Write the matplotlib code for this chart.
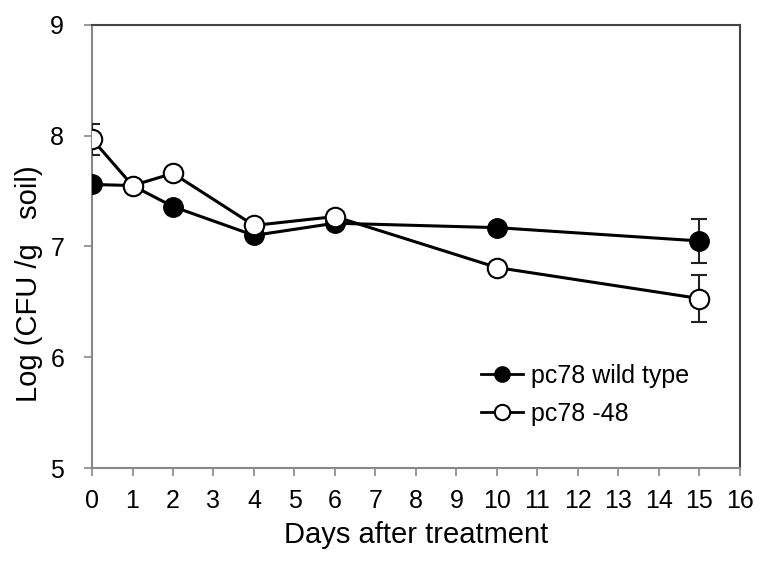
import numpy as np
import matplotlib.pyplot as plt
from matplotlib.lines import Line2D

plt.rcParams['font.family'] = ['Liberation Sans', 'DejaVu Sans']

days = [0, 1, 2, 4, 6, 10, 15]
wild = [7.56, 7.55, 7.36, 7.10, 7.21, 7.17, 7.05]
wild_err = [0.0, 0.0, 0.0, 0.0, 0.0, 0.0, 0.20]
mut = [7.97, 7.55, 7.66, 7.19, 7.27, 6.81, 6.53]
mut_err = [0.14, 0.0, 0.0, 0.0, 0.0, 0.05, 0.21]

fig = plt.figure(figsize=(7.68, 5.67), dpi=100)
ax = fig.add_axes([0.1198, 0.1746, 0.8437, 0.7814])

ax.errorbar(days, wild, yerr=wild_err, color='black', lw=2.2, marker='o', ms=14,
            mfc='black', mec='black', ecolor='#222222', elinewidth=1.5, capsize=6,
            capthick=1.5, zorder=3)
ax.errorbar(days, mut, yerr=mut_err, color='black', lw=2.2, marker='o', ms=14,
            mfc='white', mec='black', mew=1.5, ecolor='#222222', elinewidth=1.5,
            capsize=6, capthick=1.5, zorder=4)

ax.set_xlim(0, 16)
ax.set_ylim(5, 9)
ax.set_xticks(range(0, 17))
ax.set_yticks([5, 6, 7, 8, 9])
ax.tick_params(axis='both', labelsize=18, direction='out', length=6, width=1.2,
               color='#888888')
ax.tick_params(axis='x', pad=9)
ax.tick_params(axis='y', pad=14)
for s in ['left', 'bottom']:
    ax.spines[s].set_color('#888888')
    ax.spines[s].set_linewidth(1.5)
for s in ['top', 'right']:
    ax.spines[s].set_color('#444444')
    ax.spines[s].set_linewidth(1.5)

ax.set_xlabel('Days after treatment', fontsize=21, labelpad=6)
ax.set_ylabel('Log (CFU /g   soil)', fontsize=21)
ax.yaxis.set_label_coords(-0.076, 0.415)

handles = [
    Line2D([0], [0], color='black', lw=2, marker='o', ms=11, mfc='black', mec='black'),
    Line2D([0], [0], color='black', lw=2, marker='o', ms=11, mfc='white', mec='black', mew=1.5),
]
ax.legend(handles, ['pc78 wild type', 'pc78 -48'], loc='upper left',
          bbox_to_anchor=(0.565, 0.285), frameon=False, fontsize=18,
          handlelength=1.7, handletextpad=0.3, labelspacing=0.55)

fig.savefig('out.png', dpi=100)
